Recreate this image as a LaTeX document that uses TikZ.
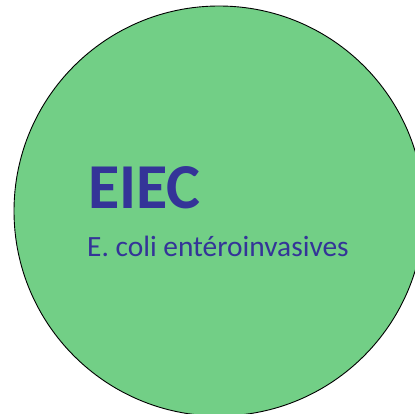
\documentclass[tikz,border=0pt]{standalone}
\usepackage{fontspec}
\setmainfont{Carlito}
\usepackage{tikz}
\usetikzlibrary{positioning}
\definecolor{bactgreen}{RGB}{114,207,134}
\definecolor{bactblue}{RGB}{52,52,152}
\tikzset{>=latex}
\tikzstyle{bact} = [circle, draw=black, line width=0.9pt, fill=bactgreen, minimum size=410pt, inner sep=0pt]
\tikzstyle{title} = [anchor=base west, inner sep=0pt, text=bactblue, font=\fontsize{64}{64}\selectfont\bfseries]
\tikzstyle{sub} = [anchor=base west, inner sep=0pt, text=bactblue, font=\fontsize{29.4}{29.4}\selectfont]

\begin{document}
\begin{tikzpicture}[x=1pt, y=-1pt]
\useasboundingbox (0, 0) rectangle (415, 414);
\begin{scope}
\clip (0, 0) rectangle (415, 414);
\node [bact] (C) at (219, 211) {};
\end{scope}
\node [title] (T) at (88, 209) {EIEC};
\node [sub] (S) at (87, 256) {E. coli entéroinvasives};
\end{tikzpicture}
\end{document}
